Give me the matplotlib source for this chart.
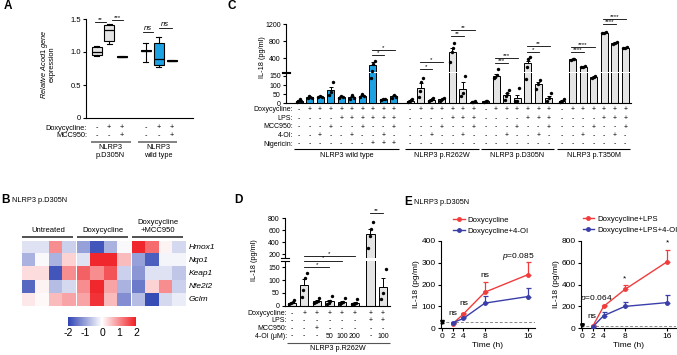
import numpy as np
import matplotlib
matplotlib.use('Agg')
import matplotlib.pyplot as plt
from matplotlib import transforms
from matplotlib.colors import LinearSegmentedColormap, Normalize
from matplotlib.cm import ScalarMappable

plt.rcParams['font.family'] = ['Liberation Sans', 'DejaVu Sans']
plt.rcParams['mathtext.fontset'] = 'custom'
plt.rcParams['mathtext.it'] = 'Liberation Sans:italic'
plt.rcParams['mathtext.rm'] = 'Liberation Sans'
plt.rcParams['axes.unicode_minus'] = False
plt.rcParams['axes.linewidth'] = 0.8

# ---------------- DATA ----------------
# Panel A (box stats)
a_whislo = [0.94, 1.12, 0.92, 0.855, 0.78, 0.86]
a_q1 = [0.95, 1.16, 0.925, 1.015, 0.80, 0.865]
a_med = [1.00, 1.33, 0.93, 1.02, 0.89, 0.87]
a_q3 = [1.07, 1.41, 0.935, 1.025, 1.14, 0.875]
a_whishi = [1.09, 1.42, 0.94, 1.13, 1.22, 0.88]
a_dox = ['-', '+', '+', '-', '+', '+']
a_mcc = ['-', '-', '+', '-', '-', '+']
a_groups = ['NLRP3\np.D305N', 'NLRP3\nwild type']
a_sig = [(1.46, '**'), (1.485, '***'), (1.31, 'ns'), (1.36, 'ns')]

# Panel B heatmap
b_genes = ['Hmox1', 'Nqo1', 'Keap1', 'Nfe2l2', 'Gclm']
b_groups = ['Untreated', 'Doxycycline', 'Doxycycline\n+MCC950']
b_untreated = [[-0.3, -0.3, 1.0, -0.5],
               [-0.8, -0.05, -0.8, 0.4],
               [0.3, 0.3, -1.8, 1.0],
               [-1.6, 0.1, -0.7, -0.4],
               [0.2, 0.05, 0.6, 0.8]]
b_dox = [[-1.0, -1.8, -0.8, -0.05],
         [-0.3, 1.9, 1.9, 0.6],
         [1.4, 1.0, 1.5, -0.5],
         [1.0, 1.9, 0.8, -0.8],
         [0.8, 1.8, 0.6, -1.2]]
b_dox_mcc = [[1.9, 1.3, 0.1, -0.4],
             [-1.0, -1.7, -0.1, -0.1],
             [-1.1, -0.3, -0.3, -0.6],
             [-1.4, 0.4, 1.0, -0.5],
             [-0.7, -1.9, -0.4, -0.2]]

# Panel C
c_group_names = ['NLRP3 wild type', 'NLRP3 p.R262W', 'NLRP3 p.D305N', 'NLRP3 p.T350M']
c_row_labels = ['Doxycycline:', 'LPS:', 'MCC950:', '4-OI:', 'Nigericin:']
c_wt_signs = ['-+++++++++', '----++++++', '---+--+--+', '--+--+--+-', '-------+++']
c_mut_signs = ['-++++++', '----+++', '---+--+', '--+--+-', '-------']
c_wt_mean = [15, 33, 36, 72, 35, 32, 42, 250, 22, 38]
c_wt_sem = [4, 4, 2, 20, 4, 6, 6, 55, 2, 8]
c_wt_dots = [[8, 15, 22, 14], [28, 40, 35, 30], [36, 38, 35], [45, 60, 118],
             [30, 40, 35], [25, 45, 28], [35, 52, 40], [137, 175, 270, 340],
             [20, 24, 22], [30, 48, 35]]
c_r262w_mean = [15, 85, 20, 22, 560, 80, 8]
c_r262w_sem = [4, 25, 4, 4, 90, 35, 2]
c_r262w_dots = [[8, 12, 18, 22], [35, 70, 118, 140], [10, 18, 25, 28], [12, 20, 25, 30],
                [320, 560, 640, 760], [40, 55, 150], [5, 8, 10]]
c_d305n_mean = [10, 150, 45, 30, 290, 104, 30]
c_d305n_sem = [3, 12, 12, 18, 60, 12, 10]
c_d305n_dots = [[5, 10, 15], [140, 145, 155, 190], [20, 40, 55, 72], [10, 12, 82],
                [135, 200, 380, 440], [80, 105, 130], [10, 28, 55]]
c_t350m_mean = [15, 380, 205, 145, 1000, 760, 650]
c_t350m_sem = [3, 8, 6, 4, 15, 20, 10]
c_t350m_dots = [[8, 15, 22], [370, 380, 390], [198, 205, 212], [140, 145, 150],
                [985, 1000, 1015], [730, 760, 790], [640, 650, 660]]
# significance: (group index, bar i, bar j, y value, text)
c_sig = [(0, 7, 8, 478, '*'), (0, 7, 9, 597, '*'),
         (1, 1, 2, 188, '*'), (1, 1, 3, 315, '*'), (1, 4, 5, 926, '**'), (1, 4, 6, 1067, '**'),
         (2, 1, 2, 291, '***'), (2, 1, 3, 409, '***'), (2, 4, 5, 550, '*'), (2, 4, 6, 691, '**'),
         (3, 1, 2, 550, '****'), (3, 1, 3, 666, '****'), (3, 4, 5, 1208, '****'), (3, 4, 6, 1324, '****')]

# Panel D
d_mean = [12, 80, 19, 18, 14, 12, 545, 72]
d_sem = [4, 25, 5, 6, 5, 4, 85, 37]
d_dots = [[5, 10, 15, 24], [35, 60, 109, 127], [12, 15, 19, 31], [8, 10, 18, 37],
          [6, 10, 14, 30], [5, 8, 12, 28], [310, 500, 630, 735], [28, 50, 144]]
d_dox = ['-', '+', '+', '+', '+', '+', '+', '+']
d_lps = ['-', '-', '-', '-', '-', '-', '+', '+']
d_mcc = ['-', '-', '+', '-', '-', '-', '-', '-']
d_4oi = ['-', '-', '-', '50', '100', '200', '-', '100']
d_sig = [(1, 3, 152, '*'), (1, 4, 176, '*'), (1, 5, 195, '*'), (6, 7, 882, '**')]

# Panel E
e_time = [2, 4, 8, 16]
e_l_dox = [20, 65, 165, 245]
e_l_dox_err = [4, 6, 45, 58]
e_l_4oi = [25, 45, 115, 145]
e_l_4oi_err = [4, 5, 32, 40]
e_l_base = 28
e_r_lps = [22, 200, 355, 610]
e_r_lps_err = [6, 15, 45, 105]
e_r_4oi = [15, 115, 200, 235]
e_r_4oi_err = [5, 30, 40, 65]
e_r_base = 22
e_t0 = 30

# ---------------- FIGURE ----------------
W, H = 677, 355
fig = plt.figure(figsize=(W / 100, H / 100), dpi=100)


def axpx(x0, y0, x1, y1):
    return fig.add_axes([x0 / W, 1 - y1 / H, (x1 - x0) / W, (y1 - y0) / H])


def ftext(x, y, s, **kw):
    return fig.text(x / W, 1 - y / H, s, **kw)


def style_ax(ax, fs):
    for s in ['top', 'right']:
        ax.spines[s].set_visible(False)
    ax.tick_params(labelsize=fs, length=2.5, width=0.8, pad=1.2)


def rows_below(ax, xs, rows, labels, ys, label_x, fs):
    tr = transforms.blended_transform_factory(ax.transData, fig.transFigure)
    for signs, lab, y in zip(rows, labels, ys):
        if lab:
            ftext(label_x, y, lab, ha='right', va='center', fontsize=fs)
        for x, s in zip(xs, signs):
            ax.text(x, 1 - y / H, s, transform=tr, ha='center', va='center', fontsize=fs, clip_on=False)


def group_line(ax, x0, x1, y, color='k', lw=0.8):
    tr = transforms.blended_transform_factory(ax.transData, fig.transFigure)
    ax.plot([x0, x1], [1 - y / H, 1 - y / H], transform=tr, color=color, lw=lw, clip_on=False,
            solid_capstyle='butt')


def group_label(ax, x, y, s, fs):
    tr = transforms.blended_transform_factory(ax.transData, fig.transFigure)
    ax.text(x, 1 - y / H, s, transform=tr, ha='center', va='center', fontsize=fs, clip_on=False,
            linespacing=1.1)


def bracket(ax, x0, x1, y, s, fs=4.5, italic=False):
    ax.plot([x0, x1], [y, y], color='k', lw=0.6, clip_on=False, zorder=6)
    ax.text((x0 + x1) / 2, y, s, ha='center', va='bottom', fontsize=fs, clip_on=False, zorder=6,
            style='italic' if italic else 'normal')


K = 0.234


def fwd(y):
    y = np.asarray(y, dtype=float)
    return np.where(y <= 200, y, 200 + (y - 200) * K)


def inv(v):
    v = np.asarray(v, dtype=float)
    return np.where(v <= 200, v, 200 + (v - 200) / K)


def axis_break(ax, lo, hi, half_px):
    wpx = ax.get_position().width * W
    dx = half_px / wpx
    ax.axhspan(lo, hi, xmin=-dx * 1.5, xmax=1, color='white', zorder=3, clip_on=False, lw=0)
    tr = transforms.blended_transform_factory(ax.transAxes, ax.transData)
    for y in (lo, hi):
        ax.plot([-dx, dx], [y, y], transform=tr, color='k', lw=0.8, clip_on=False, zorder=7)


def dots(ax, x, vals, width, s=6):
    n = len(vals)
    offs = np.linspace(-width, width, n) if n > 1 else [0]
    ax.scatter(x + np.asarray(offs), vals, s=s, color='k', zorder=5, clip_on=False, lw=0)


# ---------- Panel A ----------
axA = axpx(86, 19, 193, 118)
style_ax(axA, 5.5)
a_pos = [0, 1, 2, 3.9, 4.95, 6]
stats = []
for i in range(6):
    stats.append(dict(med=a_med[i], q1=a_q1[i], q3=a_q3[i], whislo=a_whislo[i], whishi=a_whishi[i], fliers=[]))
bp = axA.bxp(stats, positions=a_pos, widths=0.8, patch_artist=True, showfliers=False,
             capwidths=0.4,
             medianprops=dict(color='k', lw=0.9), whiskerprops=dict(color='k', lw=0.8),
             capprops=dict(color='k', lw=0.8), boxprops=dict(edgecolor='k', lw=0.8))
for i, b in enumerate(bp['boxes']):
    b.set_facecolor('#e4e4e4' if i < 3 else '#1ca2e3')
axA.set_xlim(-0.86, 7.7)
axA.set_ylim(0, 1.5)
axA.set_yticks([0, 0.5, 1.0, 1.5])
axA.set_yticklabels(['0', '0.5', '1.0', '1.5'])
axA.set_xticks([])
bracket(axA, -0.15, 0.7, a_sig[0][0], a_sig[0][1])
bracket(axA, 1.2, 2.1, a_sig[1][0], a_sig[1][1])
bracket(axA, 3.7, 4.5, a_sig[2][0], a_sig[2][1], fs=5.5, italic=True)
bracket(axA, 4.95, 6.0, a_sig[3][0], a_sig[3][1], fs=5.5, italic=True)
rows_below(axA, a_pos, [a_dox, a_mcc], ['Doxycycline:', 'MCC950:'], [128, 136], 87, 5.3)
group_line(axA, -0.45, 2.7, 142, color='#777777', lw=1.3)
group_line(axA, 3.3, 6.4, 142, color='#777777', lw=1.3)
group_label(axA, 1.1, 151.5, a_groups[0], 5.3)
group_label(axA, 4.95, 151.5, a_groups[1], 5.3)
ftext(44.5, 64, 'Relative $\\it{Acod1}$ gene', rotation=90, ha='center', va='center', fontsize=5.3,
      style='italic')
ftext(52.5, 64, 'expression', rotation=90, ha='center', va='center', fontsize=5.3)
ftext(4, 6, 'A', fontsize=8.5, fontweight='bold', va='center')

# ---------- Panel B ----------
axB = axpx(21.7, 240.7, 185, 306)
cmap = LinearSegmentedColormap.from_list('bwr2', ['#2f44b3', '#ffffff', '#f01e23'])
gap = 0.12
for g, mat in enumerate([b_untreated, b_dox, b_dox_mcc]):
    x0 = g * (4 + gap)
    axB.imshow(np.array(mat), cmap=cmap, vmin=-2, vmax=2, extent=(x0, x0 + 4, 5, 0),
               aspect='auto', interpolation='nearest')
    axB.plot([x0 + 0.05, x0 + 3.85], [-0.3, -0.3], color='#333333', lw=1.2, clip_on=False,
             solid_capstyle='butt')
    axB.text(x0 + 2, -0.5, b_groups[g], ha='center', va='bottom', fontsize=5.5, clip_on=False,
             linespacing=1.25)
axB.set_xlim(0, 12 + 2 * gap)
axB.set_ylim(5, 0)
axB.axis('off')
for i, gname in enumerate(b_genes):
    axB.text(12 + 2 * gap + 0.25, i + 0.5, gname, style='italic', ha='left', va='center', fontsize=6,
             clip_on=False)
cax = axpx(68, 316.7, 136, 326)
cb = fig.colorbar(ScalarMappable(norm=Normalize(-2, 2), cmap=cmap), cax=cax, orientation='horizontal')
cb.outline.set_visible(False)
cb.set_ticks([-2, -1, 0, 1, 2])
cax.tick_params(length=0, labelsize=7.5, pad=1.5)
ftext(1, 200, 'B', fontsize=8.5, fontweight='bold', va='center')
ftext(12, 200.5, 'NLRP3 p.D305N', fontsize=5.3, va='center')

# ---------- Panel C ----------
axC = axpx(286, 24.3, 631, 103.3)
style_ax(axC, 5)
axC.set_yscale('function', functions=(fwd, inv))
axC.set_ylim(0, 1200)
axC.set_xlim(-1.24, 31.5)
axC.set_yticks([0, 50, 100, 150, 400, 800, 1200])
axC.set_yticklabels(['0', '50', '100', '150', '400', '800', '1200'])
axC.yaxis.set_minor_locator(matplotlib.ticker.NullLocator())
axC.set_xticks([])
c_starts = [0, 10.55, 17.7, 24.95]
c_sets = [(c_wt_mean, c_wt_sem, c_wt_dots, '#1ca2e3'),
          (c_r262w_mean, c_r262w_sem, c_r262w_dots, '#e4e4e4'),
          (c_d305n_mean, c_d305n_sem, c_d305n_dots, '#e4e4e4'),
          (c_t350m_mean, c_t350m_sem, c_t350m_dots, '#e4e4e4')]
for g, (m, e, dd, col) in enumerate(c_sets):
    xs = c_starts[g] + np.arange(len(m))
    axC.bar(xs, m, width=0.66, color=col, edgecolor='k', lw=0.7, zorder=2)
    axC.errorbar(xs, m, yerr=[np.zeros(len(e)), e], fmt='none', ecolor='k', elinewidth=0.7,
                 capsize=1.5, capthick=0.7, zorder=4)
    for x, v in zip(xs, dd):
        dots(axC, x, v, 0.18)
    signs = c_wt_signs if g == 0 else c_mut_signs
    rows_below(axC, xs, signs, c_row_labels if g == 0 else [''] * 5,
               [109.8, 118.4, 127, 135.5, 144], 293, 5)
    group_line(axC, xs[0] - 0.45, xs[-1] + 0.5, 149.3)
    group_label(axC, (xs[0] + xs[-1]) / 2, 155.5, c_group_names[g], 5.2)
for g, i, j, y, s in c_sig:
    bracket(axC, c_starts[g] + i - 0.1, c_starts[g] + j + 0.1, y, s, fs=4.5)
axis_break(axC, 164, 173, 4)
ftext(262, 57, 'IL-18 (pg/ml)', rotation=90, ha='center', va='center', fontsize=5.3)
ftext(228, 6, 'C', fontsize=8.5, fontweight='bold', va='center')

# ---------- Panel D ----------
axD = axpx(285, 218.3, 390, 305.7)
style_ax(axD, 5)
axD.set_yscale('function', functions=(fwd, inv))
axD.set_ylim(0, 800)
d_pos = np.array([0, 1, 2, 3, 4, 5, 6.25, 7.25])
axD.set_xlim(-0.53, 7.8)
axD.set_yticks([0, 50, 100, 150, 200, 400, 600, 800])
axD.set_yticklabels(['0', '50', '100', '150', '200', '400', '600', '800'])
axD.yaxis.set_minor_locator(matplotlib.ticker.NullLocator())
axD.set_xticks([])
axD.bar(d_pos, d_mean, width=0.66, color='#e4e4e4', edgecolor='k', lw=0.7, zorder=2)
axD.errorbar(d_pos, d_mean, yerr=[np.zeros(len(d_sem)), d_sem], fmt='none', ecolor='k', elinewidth=0.7,
             capsize=1.5, capthick=0.7, zorder=4)
for x, v in zip(d_pos, d_dots):
    dots(axD, x, v, 0.2)
for i, j, y, s in d_sig:
    bracket(axD, d_pos[i], d_pos[j], y, s, fs=4.5)
axis_break(axD, 173, 185, 4)
rows_below(axD, d_pos, [d_dox, d_lps, d_mcc, d_4oi], ['Doxycycline:', 'LPS:', 'MCC950:', '4-OI (μM):'],
           [313.3, 320.7, 328.3, 336], 287, 5)
group_line(axD, -0.4, 7.8, 342.7, color='#555555', lw=0.8)
group_label(axD, 3.7, 348.5, 'NLRP3 p.R262W', 5.2)
ftext(255, 260, 'IL-18 (pg/ml)', rotation=90, ha='center', va='center', fontsize=5.3)
ftext(234, 200, 'D', fontsize=8.5, fontweight='bold', va='center')

# ---------- Panel E ----------
RED = '#f03c3c'
BLUE = '#3a3ea8'


def e_panel(ax, s1, e1, s2, e2, base, lab1, lab2, ymax, yt):
    style_ax(ax, 6)
    ax.axhline(base, color='#888888', lw=0.7, ls=(0, (3, 2)), zorder=1)
    ax.errorbar(e_time, s1, yerr=[np.zeros(4), e1], fmt='none', ecolor=RED, elinewidth=0.9, capsize=1.8,
                capthick=0.9, zorder=3)
    ax.errorbar(e_time, s2, yerr=[np.zeros(4), e2], fmt='none', ecolor=BLUE, elinewidth=0.9, capsize=1.8,
                capthick=0.9, zorder=3)
    l1, = ax.plot(e_time, s1, color=RED, lw=1.0, marker='o', ms=2.5, label=lab1, zorder=4)
    l2, = ax.plot(e_time, s2, color=BLUE, lw=1.0, marker='o', ms=2.5, label=lab2, zorder=4)
    ax.errorbar([0], [e_t0], yerr=[[4], [6]], fmt='v', color='k', ms=2.5, elinewidth=0.7, capsize=1.2,
                zorder=5, clip_on=False)
    ax.set_ylim(0, ymax)
    ax.set_yticks(yt)
    ax.set_xticks([0, 2, 4, 8, 16])
    ax.set_xlabel('Time (h)', fontsize=6, labelpad=1)
    ax.set_ylabel('IL-18 (pg/ml)', fontsize=6, labelpad=1)
    return l1, l2


axE1 = axpx(440.7, 240.7, 535, 328.3)
l1, l2 = e_panel(axE1, e_l_dox, e_l_dox_err, e_l_4oi, e_l_4oi_err, e_l_base,
                 'Doxycycline', 'Doxycycline+4-OI', 400, [0, 100, 200, 300, 400])
axE1.set_xlim(-0.2, 17.3)
axE1.text(2, 50, 'ns', ha='center', va='bottom', fontsize=6)
axE1.text(4, 95, 'ns', ha='center', va='bottom', fontsize=6)
axE1.text(8, 225, 'ns', ha='center', va='bottom', fontsize=6)
axE1.text(14.2, 305, '$\\it{p}$=0.085', ha='center', va='bottom', fontsize=6)
axE1.legend(handles=[l1, l2], loc='lower left', bbox_to_anchor=(0.13, 1.065), frameon=False, fontsize=5.6,
            handlelength=1.5, handletextpad=0.4, labelspacing=0.45, borderaxespad=0, borderpad=0)

axE2 = axpx(580.7, 240.7, 676, 328.3)
r1, r2 = e_panel(axE2, e_r_lps, e_r_lps_err, e_r_4oi, e_r_4oi_err, e_r_base,
                 'Doxycycline+LPS', 'Doxycycline+LPS+4-OI', 800, [0, 200, 400, 600, 800])
axE2.set_xlim(-0.3, 17.6)
axE2.text(1.8, 75, 'ns', ha='center', va='bottom', fontsize=6)
axE2.text(2.7, 225, '$\\it{p}$=0.064', ha='center', va='bottom', fontsize=6)
axE2.text(7.9, 420, '*', ha='center', va='bottom', fontsize=6)
axE2.text(16, 745, '*', ha='center', va='bottom', fontsize=6)
axE2.legend(handles=[r1, r2], loc='lower left', bbox_to_anchor=(0.02, 1.08), frameon=False, fontsize=5.6,
            handlelength=1.5, handletextpad=0.4, labelspacing=0.45, borderaxespad=0, borderpad=0)

ftext(404, 202, 'E', fontsize=8.5, fontweight='bold', va='center')
ftext(414, 202.5, 'NLRP3 p.D305N', fontsize=5.3, va='center')

fig.savefig('out.png', dpi=100)
